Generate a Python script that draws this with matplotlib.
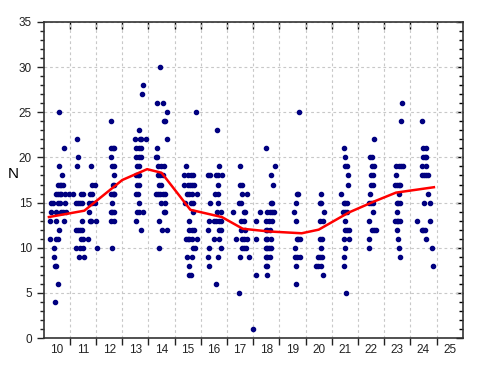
import matplotlib
matplotlib.use("Agg")
import matplotlib.pyplot as plt
from matplotlib.ticker import FixedLocator, MultipleLocator, NullFormatter

plt.rcParams['font.family'] = ['Liberation Sans', 'DejaVu Sans']

# ---- scatter data per group (x = age value, y = N) ----
x10 = [10.09, 10.26, 10.08, 10.18, 10.04, 10.11, 10.17, 10.23, 9.98, 10.04, 10.11, 10.17, 10.30, 10.45,
       9.79, 9.85, 10.04, 10.11, 10.30, 9.79, 9.96, 10.17, 10.23, 10.34, 9.73, 9.98, 10.26, 10.08,
       9.75, 9.98, 10.04, 9.88, 9.88, 9.92, 9.98, 10.04, 9.92]
y10 = [25, 21, 19, 18, 17, 17, 17, 17, 16, 16, 16, 16, 16, 16,
       15, 15, 15, 15, 15, 14, 14, 14, 14, 14, 13, 13, 13, 12,
       11, 11, 11, 10, 9, 8, 8, 6, 4]

x11 = [10.78, 10.80, 10.78, 11.31, 11.33, 11.46, 10.61, 10.92, 11.01, 11.26, 11.36,
       10.75, 10.80, 10.88, 10.95, 11.23, 11.36, 11.45, 11.22, 10.97, 11.25, 11.31, 11.48,
       10.73, 10.82, 10.88, 10.98, 10.92, 11.01, 11.20, 10.75, 10.88, 11.01, 11.52, 10.85, 11.03]
y11 = [22, 20, 19, 19, 17, 17, 16, 16, 16, 16, 16,
       15, 15, 15, 15, 15, 15, 15, 14, 13, 13, 13, 13,
       12, 12, 12, 12, 11, 11, 11, 10, 10, 10, 10, 9, 9]

x12 = [12.07, 12.07, 12.13, 12.20, 12.07, 12.11, 12.17, 12.17, 12.15, 12.20,
       12.07, 12.13, 12.17, 12.20, 12.11, 12.07, 12.11, 12.17, 12.07, 12.17, 12.09]
y12 = [24, 21, 21, 21, 20, 19, 19, 18, 17, 17,
       16, 16, 16, 16, 15, 14, 14, 14, 13, 13, 10]

x13 = [13.30, 13.24, 13.12, 12.99, 13.16, 13.22, 13.41, 13.04, 13.13, 13.20, 13.04, 13.12, 13.20,
       13.05, 13.13, 13.03, 13.10, 13.14, 13.07, 13.12, 13.03, 13.10, 13.12, 13.06, 13.12, 13.31,
       13.03, 13.20]
y13 = [28, 27, 23, 22, 22, 22, 22, 21, 21, 21, 20, 20, 20,
       19, 19, 18, 18, 18, 17, 17, 16, 16, 15, 14, 14, 14,
       13, 12]

x14 = [13.95, 13.82, 14.07, 14.21, 14.09, 14.15, 14.20, 13.82, 13.79, 13.83, 13.86, 13.98, 14.11,
       13.86, 13.95, 14.05, 13.92, 13.98, 13.77, 13.86, 13.95, 14.05, 14.14, 13.96, 14.14,
       14.11, 14.15, 13.90, 14.01, 14.20, 13.90]
y14 = [30, 26, 26, 25, 24, 24, 22, 21, 20, 20, 19, 19, 19,
       18, 18, 18, 17, 17, 16, 16, 16, 16, 16, 15, 15,
       14, 14, 13, 12, 12, 10]

x15 = [15.33, 14.95, 14.87, 15.00, 15.12, 15.19, 14.87, 15.00, 15.09, 15.16, 15.25,
       14.96, 15.06, 15.15, 15.34, 14.91, 15.12, 15.19, 15.19, 15.04, 15.06, 15.16, 15.23,
       14.93, 15.00, 15.06, 15.16, 15.35, 15.19, 15.29, 14.96, 15.16, 15.06, 15.06, 15.12]
y15 = [25, 19, 18, 18, 18, 18, 17, 17, 17, 17, 17,
       16, 16, 16, 16, 15, 15, 15, 14, 13, 12, 12, 12,
       11, 11, 11, 11, 11, 10, 10, 9, 9, 8, 7, 7]

x16 = [16.10, 16.20, 15.78, 15.85, 16.07, 16.14, 16.29, 16.14, 16.05, 16.14, 15.86, 16.14,
       16.10, 16.26, 15.82, 15.99, 16.07, 16.20, 16.26, 15.79, 16.20, 16.26, 15.99, 16.18,
       15.82, 16.26, 15.79, 16.16, 15.82, 16.07]
y16 = [23, 19, 18, 18, 18, 18, 18, 17, 16, 16, 15, 15,
       14, 14, 13, 13, 13, 13, 13, 12, 12, 12, 11, 11,
       10, 10, 9, 9, 8, 6]

x17 = [17.00, 17.00, 17.09, 17.09, 17.25, 16.94, 17.02, 16.73, 17.13, 17.19, 17.02, 17.13,
       17.02, 17.19, 16.86, 17.09, 17.15, 17.25, 17.06, 17.15, 17.24, 16.99, 17.34, 16.94]
y17 = [19, 17, 17, 16, 16, 15, 15, 14, 14, 14, 13, 13,
       12, 12, 11, 11, 11, 11, 10, 10, 10, 9, 9, 5]

x18 = [17.97, 18.33, 18.16, 18.25, 18.16, 18.23, 17.76, 18.04, 18.13, 18.23, 18.29,
       17.62, 18.00, 18.10, 18.23, 17.97, 18.04, 18.13, 17.62, 17.97, 18.04, 18.16,
       17.97, 18.04, 18.10, 18.16, 17.97, 18.04, 18.13, 17.97, 18.04, 17.62, 18.01, 17.49]
y18 = [21, 19, 18, 17, 15, 15, 14, 14, 14, 14, 14,
       13, 13, 13, 13, 12, 12, 12, 11, 11, 11, 11,
       10, 10, 10, 10, 9, 9, 9, 8, 8, 7, 7, 1]

x19 = [19.25, 19.16, 19.22, 19.12, 19.06, 19.14, 19.16, 19.22, 19.28, 19.09,
       19.09, 19.16, 19.28, 19.12, 19.12]
y19 = [25, 16, 16, 15, 14, 13, 11, 11, 11, 10,
       9, 9, 9, 8, 6]

x20 = [20.07, 20.04, 20.09, 20.20, 20.04, 20.17, 20.04, 20.13, 20.07, 19.98, 20.04, 20.11,
       19.90, 19.98, 20.07, 20.16]
y20 = [16, 15, 15, 14, 13, 13, 11, 11, 10, 9, 9, 9,
       8, 8, 8, 7]

x21 = [20.98, 20.99, 21.00, 21.08, 21.12, 21.12, 20.86, 20.96, 21.02, 21.08, 20.93, 21.00, 21.08,
       21.02, 21.00, 21.08, 21.15, 20.98, 21.17, 21.02, 20.98, 20.96, 21.06]
y21 = [21, 20, 19, 19, 18, 17, 16, 15, 15, 15, 14, 14, 14,
       13, 12, 12, 12, 11, 11, 10, 9, 8, 5]

x22 = [22.10, 21.97, 22.03, 22.03, 22.10, 22.00, 22.06, 22.00, 22.07, 21.97, 21.91, 22.00, 22.07,
       22.07, 21.94, 22.03, 22.12, 22.20, 21.94, 21.94]
y22 = [22, 20, 20, 19, 19, 18, 18, 17, 17, 16, 15, 15, 15,
       14, 13, 12, 12, 12, 11, 10]

x23 = [23.20, 23.15, 22.95, 23.05, 23.15, 23.21, 22.95, 22.92, 22.98, 23.05, 23.11, 23.05,
       22.98, 23.04, 23.10, 22.98, 22.92, 22.98, 23.04, 23.11, 22.98, 23.02, 23.05, 23.09]
y23 = [26, 24, 19, 19, 19, 19, 18, 17, 17, 17, 17, 16,
       15, 15, 15, 14, 13, 13, 13, 13, 12, 11, 10, 9]

x24 = [23.96, 24.00, 24.10, 23.97, 24.05, 24.10, 23.96, 24.10, 23.96, 24.04, 24.10, 24.19,
       24.19, 24.04, 24.25, 23.74, 24.25, 23.93, 23.99, 24.05, 24.09, 24.34, 24.38]
y24 = [24, 21, 21, 20, 20, 20, 19, 19, 18, 18, 18, 18,
       16, 15, 15, 13, 13, 12, 12, 12, 11, 10, 8]

# ---- mean line ----
line_x = [9.7, 11.05, 12.5, 13.45, 14.0, 15.1, 16.3, 17.1, 18.1, 19.35, 20.0, 21.15, 22.1, 22.95, 24.4]
line_y = [13.4, 14.1, 17.5, 18.7, 18.3, 14.2, 13.4, 12.1, 11.8, 11.6, 12.0, 13.9, 15.1, 16.1, 16.7]

xticklabels = [str(v) for v in range(10, 26)]

groups_x = [x10, x11, x12, x13, x14, x15, x16, x17, x18, x19, x20, x21, x22, x23, x24]
groups_y = [y10, y11, y12, y13, y14, y15, y16, y17, y18, y19, y20, y21, y22, y23, y24]

fig = plt.figure(figsize=(4.82, 3.69), dpi=100)
ax = fig.add_axes([0.0907, 0.084, 0.8693, 0.8564])

for gx, gy in zip(groups_x, groups_y):
    ax.plot(gx, gy, linestyle='none', marker='o', markersize=3.0,
            markerfacecolor='#000080', markeredgecolor='#000080', zorder=3)

ax.plot(line_x, line_y, color='#ff0000', linewidth=1.8, zorder=4)

ax.set_xlim(9.5, 25.5)
ax.set_ylim(0, 35)

# x: ticks at half-integers, labels at integers
ax.xaxis.set_major_locator(FixedLocator([v + 0.5 for v in range(10, 25)]))
ax.xaxis.set_major_formatter(NullFormatter())
ax.xaxis.set_minor_locator(FixedLocator(list(range(10, 26))))
ax.set_xticklabels(xticklabels, minor=True)
ax.tick_params(axis='x', which='minor', length=0, pad=4)
ax.tick_params(axis='x', which='major', direction='out', length=5, width=1,
               top=False, bottom=True)

ax.yaxis.set_major_locator(MultipleLocator(5))
ax.yaxis.set_minor_locator(MultipleLocator(1))
ax.tick_params(axis='y', which='major', direction='out', length=5, width=1, left=True, right=False)
ax.tick_params(axis='y', which='minor', direction='out', length=3, width=1, left=True, right=False)
ax.tick_params(axis='both', which='both', labelsize=8.5, colors='#222222')

# mirrored ticks (inward) on top and right
sec_top = ax.secondary_xaxis('top')
sec_top.xaxis.set_major_locator(FixedLocator([v + 0.5 for v in range(10, 25)]))
sec_top.xaxis.set_major_formatter(NullFormatter())
sec_top.tick_params(direction='in', length=5, width=1)
sec_top.spines['top'].set_visible(False)

sec_right = ax.secondary_yaxis('right')
sec_right.yaxis.set_major_locator(MultipleLocator(5))
sec_right.yaxis.set_minor_locator(MultipleLocator(1))
sec_right.yaxis.set_major_formatter(NullFormatter())
sec_right.tick_params(which='major', direction='in', length=5, width=1)
sec_right.tick_params(which='minor', direction='in', length=3, width=1)
sec_right.spines['right'].set_visible(False)

for s in ax.spines.values():
    s.set_linewidth(1.2)
    s.set_color('#333333')

ax.grid(True, which='major', axis='both', color='#c8c8c8', linestyle=(0, (2.5, 2.5)), linewidth=0.8)
ax.set_axisbelow(True)

ax.set_ylabel('N', rotation=0, fontsize=11)
ax.yaxis.set_label_coords(-0.073, 0.497)

fig.savefig('out.png', dpi=100)
